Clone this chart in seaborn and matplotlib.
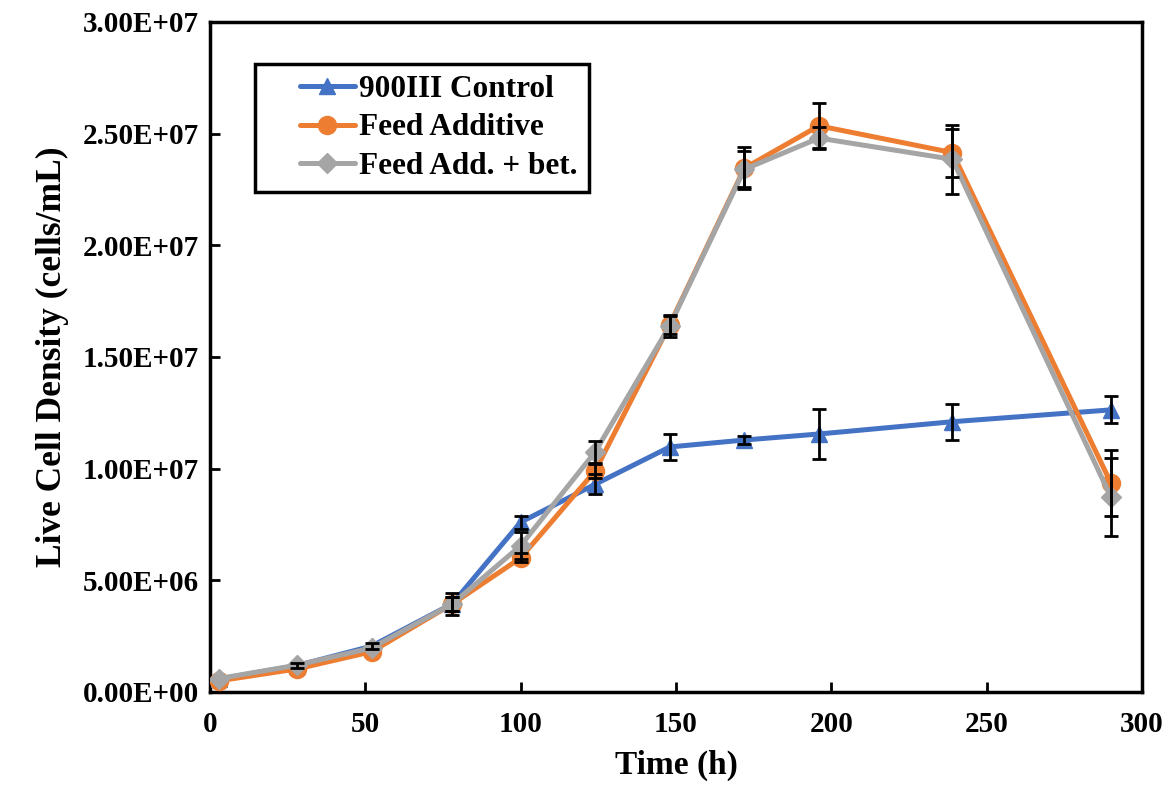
import matplotlib
matplotlib.use("Agg")
import matplotlib.pyplot as plt
import seaborn as sns
import pandas as pd
import numpy as np
from matplotlib.ticker import FuncFormatter, MultipleLocator
from matplotlib.legend_handler import HandlerLine2D

nan = float("nan")
# ---- data ----
time_h = [3, 28, 52, 78, 100, 124, 148, 172, 196, 239, 290]
control = [0.58e6, 1.18e6, 2.05e6, 3.95e6, 7.6e6, 9.3e6, 10.97e6, 11.28e6, 11.55e6, 12.1e6, 12.63e6]
control_err = [nan, 0.1e6, 0.12e6, 0.5e6, 0.3e6, 0.45e6, 0.6e6, 0.2e6, 1.1e6, 0.8e6, 0.6e6]
feed_add = [0.5e6, 1.03e6, 1.8e6, 3.94e6, 6.0e6, 9.9e6, 16.45e6, 23.45e6, 25.35e6, 24.15e6, 9.36e6]
feed_add_err = [nan, nan, nan, 0.3e6, 0.2e6, 0.3e6, 0.4e6, 0.95e6, 1.0e6, 1.07e6, 1.48e6]
feed_bet = [0.6e6, 1.2e6, 1.97e6, 3.94e6, 6.55e6, 10.75e6, 16.4e6, 23.4e6, 24.8e6, 23.85e6, 8.73e6]
feed_bet_err = [nan, nan, nan, 0.3e6, 0.6e6, 0.5e6, 0.5e6, 0.8e6, 0.5e6, 1.55e6, 1.75e6]

series_names = ["900III Control", "Feed Additive", "Feed Add. + bet."]
x_ticks = [0, 50, 100, 150, 200, 250, 300]

sns.set_theme(style="white")
plt.rcParams['font.family'] = ['Liberation Serif', 'DejaVu Serif']
plt.rcParams['font.weight'] = 'bold'
plt.rcParams['text.color'] = 'black'
plt.rcParams['axes.labelcolor'] = 'black'
plt.rcParams['xtick.color'] = 'black'
plt.rcParams['ytick.color'] = 'black'

fig = plt.figure(figsize=(11.7, 7.99), dpi=100)
ax = fig.add_axes([0.1795, 0.134, 0.7965, 0.8385])

colors = ["#4472C4", "#ED7D31", "#A5A5A5"]
markers = ["^", "o", "D"]
msizes = [12, 13, 10]
vals = [control, feed_add, feed_bet]
errs = [control_err, feed_add_err, feed_bet_err]

for name, v, c, m, ms in zip(series_names, vals, colors, markers, msizes):
    df = pd.DataFrame({"t": time_h, "v": v})
    sns.lineplot(data=df, x="t", y="v", ax=ax, color=c, marker=m, markersize=ms,
                 markeredgecolor=c, markeredgewidth=1, linewidth=3.6, label=name,
                 zorder=3)
for v, e in zip(vals, errs):
    ax.errorbar(time_h, v, yerr=np.array(e), fmt="none", ecolor="black", elinewidth=2,
                capsize=5, capthick=2, zorder=5)

ax.set_xlim(0, 300)
ax.set_ylim(0, 3e7)
ax.set_xticks(x_ticks)
ax.yaxis.set_major_locator(MultipleLocator(5e6))
ax.yaxis.set_major_formatter(FuncFormatter(lambda v, p: f"{v:.2E}"))

for s in ax.spines.values():
    s.set_color("black")
    s.set_linewidth(2.5)
ax.tick_params(axis="both", direction="in", length=7, width=2, colors="black",
               labelcolor="black", labelsize=21, left=True, bottom=True,
               right=False, top=False)
ax.tick_params(axis="x", pad=14)
ax.tick_params(axis="y", pad=8)
for lab in ax.get_xticklabels() + ax.get_yticklabels():
    lab.set_fontweight("bold")

ax.set_xlabel("Time (h)", fontsize=24, fontweight="bold", labelpad=8, color="black")
ax.set_ylabel("Live Cell Density (cells/mL)", fontsize=25.5, fontweight="bold",
              labelpad=10, color="black")

handles, labels = ax.get_legend_handles_labels()
hmap = {h: HandlerLine2D(xpad=1.1) for h in handles}
leg = ax.legend(handles, labels, loc="upper left", bbox_to_anchor=(0.048, 0.937),
                fontsize=22.5, frameon=True, fancybox=False, edgecolor="black",
                framealpha=1, handlelength=2.85, borderpad=0.35, labelspacing=0.3,
                handletextpad=0.15, borderaxespad=0, handler_map=hmap)
leg.get_frame().set_linewidth(2.5)
for t in leg.get_texts():
    t.set_fontweight("bold")
    t.set_color("black")

fig.savefig("out.png", dpi=100)
